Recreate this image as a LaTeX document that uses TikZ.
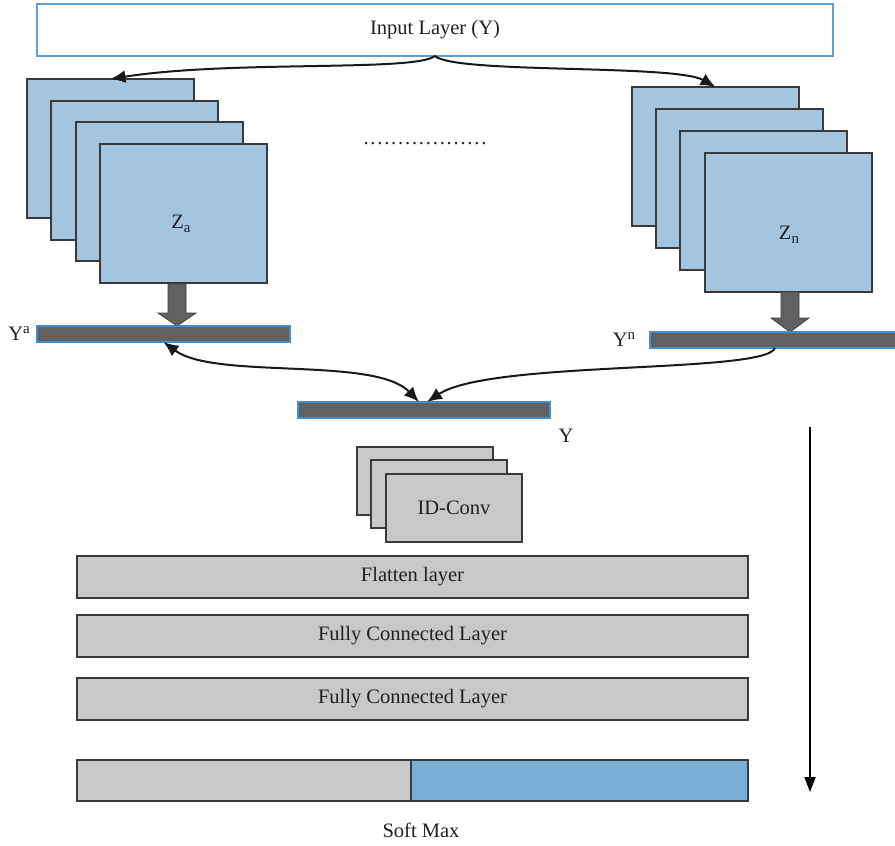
\documentclass[tikz,border=0pt]{standalone}
\usepackage{fontspec}
\setmainfont{Liberation Serif}
\usetikzlibrary{arrows.meta}
\definecolor{mapblue}{HTML}{A4C5E0}
\definecolor{edgegray}{HTML}{3A3A3A}
\definecolor{layergray}{HTML}{C7C8CA}
\definecolor{bardark}{HTML}{616161}
\definecolor{barblue}{HTML}{3F8FD0}
\definecolor{smblue}{HTML}{7BAFD6}
\definecolor{inpblue}{HTML}{5BA0D8}
\definecolor{txt}{HTML}{231F20}
\newcommand{\subtxt}[1]{\raisebox{-4pt}{\fontsize{15}{15}\selectfont #1}}
\newcommand{\suptxt}[1]{\raisebox{7pt}{\fontsize{15}{15}\selectfont #1}}
\begin{document}
\begin{tikzpicture}[x=1pt,y=-1pt,
  >={Latex[length=15pt,width=13pt]},
  box/.style={inner sep=0pt, outer sep=0pt, anchor=north west, text=txt,
              font=\fontsize{20.5}{24}\selectfont},
  inbox/.style={box, draw=inpblue, line width=1.2pt, fill=white,
              minimum width=796pt, minimum height=52pt},
  fmap/.style={box, draw=edgegray, fill=mapblue, line width=1.1pt,
              minimum width=167pt, minimum height=139pt},
  cmap/.style={box, draw=edgegray, fill=layergray, line width=1.1pt,
              minimum width=136pt, minimum height=68pt},
  layer/.style={box, draw=edgegray, fill=layergray, line width=1.1pt,
              minimum width=671pt, minimum height=42pt},
  featbar/.style={box, draw=barblue, fill=bardark, line width=1.1pt, minimum height=16pt},
  lbl/.style={inner sep=0pt, text=txt, font=\fontsize{20.5}{24}\selectfont},
  curve/.style={line width=2pt, draw=black!90},
  blockarrow/.style={fill=bardark, draw=black!75, line width=0.8pt}
]
\useasboundingbox (0,0) rectangle (895,846);

% input layer
\node[inbox] (inp) at (37,4) {};
\node[lbl] (inptxt) at (435,30) {Input Layer (Y)};

% left feature map stack
\node[fmap] (a1) at (27,79) {};
\node[fmap] (a2) at (51,101) {};
\node[fmap] (a3) at (76,122) {};
\node[fmap] (a4) at (100,144) {};
\node[lbl] (za) at (181,224) {Z\subtxt{a}};

% right feature map stack
\node[fmap] (n1) at (632,87) {};
\node[fmap] (n2) at (656,109) {};
\node[fmap] (n3) at (680,131) {};
\node[fmap] (n4) at (705,153) {};
\node[lbl] (zn) at (789,235) {Z\subtxt{n}};

% dots
\node[lbl, anchor=base] (dots) at (425,144)
  {\hbox to 123pt{.\hfill.\hfill.\hfill.\hfill.\hfill.\hfill.\hfill.\hfill.\hfill.\hfill.\hfill.\hfill.\hfill.\hfill.\hfill.\hfill.\hfill.}};

% arrows from input
\draw[curve, ->] (inp.south) .. controls (415,72) and (230,60) .. (a1.north);
\draw[curve, ->] (inp.south) .. controls (455,74) and (675,64) .. (n1.north);

% block arrows
\draw[blockarrow] (168,284) -- (186,284) -- (186,313) -- (196,313) -- (177,326)
   -- (158,313) -- (168,313) -- cycle;
\draw[blockarrow] (781,292) -- (799,292) -- (799,318) -- (809,318) -- (790,332)
   -- (771,318) -- (781,318) -- cycle;

% feature bars
\node[featbar, minimum width=253pt] (ya) at (37,326) {};
\node[lbl] (yalbl) at (19,333) {Y\suptxt{a}};
\node[featbar, minimum width=250pt] (yn) at (650,332) {};
\node[lbl] (ynlbl) at (624,339) {Y\suptxt{n}};
\node[featbar, minimum width=252pt] (mid) at (298,402) {};
\node[lbl] (ylbl) at (566,436) {Y};

% merging arrows
\draw[curve, <->] (ya.south) .. controls (215,380) and (375,356) .. ([xshift=-5pt]mid.north);
\draw[curve, ->] (yn.south) .. controls (765,374) and (490,360) .. ([xshift=3pt]mid.north);

% ID-Conv stack
\node[cmap] (c1) at (357,447) {};
\node[cmap] (c2) at (371,460) {};
\node[cmap] (c3) at (386,474) {ID-Conv};

% layers
\node[layer] (flat) at (77,556) {Flatten layer};
\node[layer] (fc1) at (77,615) {Fully Connected Layer};
\node[layer] (fc2) at (77,678) {Fully Connected Layer};

% softmax
\node[box, draw=edgegray, fill=layergray, line width=1.1pt, minimum width=334pt, minimum height=41pt] (sm1) at (77,760) {};
\node[box, draw=edgegray, fill=smblue, line width=1.1pt, minimum width=337pt, minimum height=41pt] (sm2) at (411,760) {};
\node[lbl] (smlbl) at (421,830) {Soft Max};

% flow arrow
\coordinate (fs) at (810,427);
\coordinate (fe) at (810,792);
\draw[line width=1.8pt, -{Triangle[length=15pt,width=11pt]}] (fs) -- (fe);
\end{tikzpicture}
\end{document}
